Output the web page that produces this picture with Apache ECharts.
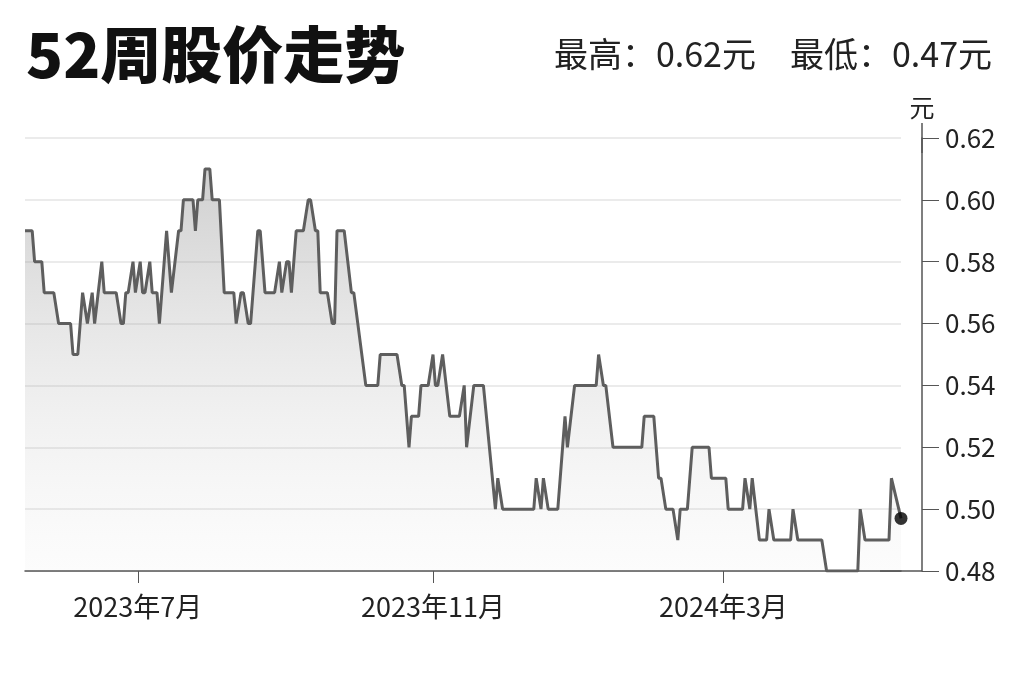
<!DOCTYPE html>
<html><head><meta charset="utf-8">
<script src="https://cdn.jsdelivr.net/npm/echarts@6/dist/echarts.min.js"></script>
<style>html,body{margin:0;padding:0;background:#fff}#c{width:1024px;height:682px}</style>
</head><body><div id="c"></div>
<script>
// ---- data ----
const startDate = '2023-05-15';
const endDate = '2024-05-14';
const tickDates = ['2023-07-01', '2023-11-01', '2024-03-01'];
const tickLabels = ['2023年7月', '2023年11月', '2024年3月'];
const high52 = '0.62';
const low52 = '0.47';
const unitName = '元';
// polyline vertices of the price line (date, price)
const priceDates = [
 '2023-05-15','2023-05-18','2023-05-19','2023-05-22','2023-05-23','2023-05-27','2023-05-29','2023-06-03','2023-06-04','2023-06-06',
 '2023-06-08','2023-06-10','2023-06-12','2023-06-13','2023-06-16','2023-06-17','2023-06-22','2023-06-24','2023-06-25','2023-06-26',
 '2023-06-27','2023-06-29','2023-06-30','2023-07-02','2023-07-03','2023-07-04','2023-07-06','2023-07-07','2023-07-09','2023-07-10',
 '2023-07-13','2023-07-15','2023-07-18','2023-07-19','2023-07-20','2023-07-24','2023-07-25','2023-07-26','2023-07-28','2023-07-29',
 '2023-07-31','2023-08-01','2023-08-04','2023-08-06','2023-08-10','2023-08-11','2023-08-13','2023-08-14','2023-08-16','2023-08-17',
 '2023-08-20','2023-08-21','2023-08-23','2023-08-27','2023-08-29','2023-08-30','2023-09-01','2023-09-02','2023-09-03','2023-09-05',
 '2023-09-08','2023-09-10','2023-09-11','2023-09-13','2023-09-14','2023-09-15','2023-09-18','2023-09-20','2023-09-21','2023-09-22',
 '2023-09-25','2023-09-28','2023-09-29','2023-10-04','2023-10-09','2023-10-10','2023-10-17','2023-10-19','2023-10-20','2023-10-22',
 '2023-10-23','2023-10-26','2023-10-27','2023-10-30','2023-11-01','2023-11-02','2023-11-03','2023-11-05','2023-11-08','2023-11-12',
 '2023-11-14','2023-11-15','2023-11-18','2023-11-22','2023-11-27','2023-11-28','2023-11-30','2023-12-13','2023-12-14','2023-12-16',
 '2023-12-17','2023-12-19','2023-12-23','2023-12-26','2023-12-27','2023-12-30','2024-01-08','2024-01-09','2024-01-11','2024-01-12',
 '2024-01-15','2024-01-27','2024-01-28','2024-02-01','2024-02-03','2024-02-04','2024-02-06','2024-02-09','2024-02-11','2024-02-12',
 '2024-02-15','2024-02-17','2024-02-24','2024-02-25','2024-03-02','2024-03-03','2024-03-09','2024-03-10','2024-03-12','2024-03-13',
 '2024-03-16','2024-03-19','2024-03-20','2024-03-22','2024-03-29','2024-03-30','2024-04-01','2024-04-11','2024-04-13','2024-04-26',
 '2024-04-27','2024-04-29','2024-05-09','2024-05-10','2024-05-14'
];
const prices = [
 0.59,0.59,0.58,0.58,0.57,0.57,0.56,0.56,0.55,0.55,
 0.57,0.56,0.57,0.56,0.58,0.57,0.57,0.56,0.56,0.57,
 0.57,0.58,0.57,0.58,0.57,0.57,0.58,0.57,0.57,0.56,
 0.59,0.57,0.59,0.59,0.60,0.60,0.59,0.60,0.60,0.61,
 0.61,0.60,0.60,0.57,0.57,0.56,0.57,0.57,0.56,0.56,
 0.59,0.59,0.57,0.57,0.58,0.57,0.58,0.58,0.57,0.59,
 0.59,0.60,0.60,0.59,0.59,0.57,0.57,0.56,0.56,0.59,
 0.59,0.57,0.57,0.54,0.54,0.55,0.55,0.54,0.54,0.52,
 0.53,0.53,0.54,0.54,0.55,0.54,0.54,0.55,0.53,0.53,
 0.54,0.52,0.54,0.54,0.50,0.51,0.50,0.50,0.51,0.50,
 0.51,0.50,0.50,0.53,0.52,0.54,0.54,0.55,0.54,0.54,
 0.52,0.52,0.53,0.53,0.51,0.51,0.50,0.50,0.49,0.50,
 0.50,0.52,0.52,0.51,0.51,0.50,0.50,0.51,0.50,0.51,
 0.49,0.49,0.50,0.49,0.49,0.50,0.49,0.49,0.48,0.48,
 0.50,0.49,0.49,0.51,0.497
];

// ---- build calendar categories ----
function fmt(d){ return d.toISOString().slice(0,10); }
const days = [];
for (let d = new Date(startDate + 'T00:00:00Z'); fmt(d) <= endDate; d.setUTCDate(d.getUTCDate() + 1)) {
  days.push(fmt(d));
}
const lineData = priceDates.map((d, i) => [d, prices[i]]);
const lastPoint = [priceDates[priceDates.length - 1], prices[prices.length - 1]];
const isTick = (idx, val) => tickDates.indexOf(val) >= 0;
const FONT = '"Noto Sans CJK SC", "Noto Sans", sans-serif';
const axisColor = '#555';

const chart = echarts.init(document.getElementById('c'), null, {renderer: 'canvas'});
chart.setOption({
  animation: false,
  backgroundColor: '#fff',
  textStyle: {fontFamily: FONT},
  title: [
    {text: '52周股价走势', left: 21, top: 19,
     textStyle: {fontSize: 61, fontWeight: 900, color: '#111', fontFamily: FONT}},
    {text: '最高：' + high52 + '元　最低：' + low52 + '元', right: 27, top: 32,
     textStyle: {fontSize: 34, fontWeight: 'normal', color: '#222', fontFamily: FONT}}
  ],
  grid: {left: 25, right: 123, top: 138, bottom: 111},
  xAxis: {
    type: 'category', data: days, boundaryGap: false,
    axisLine: {show: true, lineStyle: {color: axisColor, width: 1.5},
               symbol: ['none', 'rect'], symbolSize: [1.5, 42]},
    axisTick: {show: true, interval: isTick, length: 12, lineStyle: {color: axisColor, width: 1}},
    axisLabel: {interval: isTick, formatter: v => tickLabels[tickDates.indexOf(v)] || '',
                fontSize: 27, color: '#222', margin: 22, fontFamily: FONT},
    splitLine: {show: false}
  },
  yAxis: {
    type: 'value', position: 'right', offset: 21,
    min: 0.48, max: 0.62, interval: 0.02,
    name: unitName, nameLocation: 'end', nameGap: 18,
    nameTextStyle: {fontSize: 25, color: '#222', align: 'center', fontFamily: FONT},
    axisLine: {show: true, lineStyle: {color: axisColor, width: 1.5},
               symbol: ['none', 'rect'], symbolSize: [1.5, 30]},
    axisTick: {show: true, length: 17, lineStyle: {color: axisColor, width: 1}},
    axisLabel: {formatter: v => v.toFixed(2), fontSize: 26, color: '#222', margin: 23, fontFamily: FONT},
    splitLine: {show: true, lineStyle: {color: '#e4e4e4', width: 1.5}}
  },
  series: [
    {
      type: 'line', data: lineData, symbol: 'none', showSymbol: false,
      lineStyle: {color: '#5e5e5e', width: 3},
      areaStyle: {color: new echarts.graphic.LinearGradient(0, 0, 0, 1, [
        {offset: 0, color: 'rgba(125,125,125,0.52)'},
        {offset: 0.5, color: 'rgba(165,165,165,0.3)'},
        {offset: 1, color: 'rgba(200,200,200,0.08)'}
      ])},
      z: 2
    },
    {
      type: 'scatter', data: [lastPoint], symbol: 'circle', symbolSize: 13,
      itemStyle: {color: '#000'}, z: 5
    }
  ]
});
</script>
</body></html>
